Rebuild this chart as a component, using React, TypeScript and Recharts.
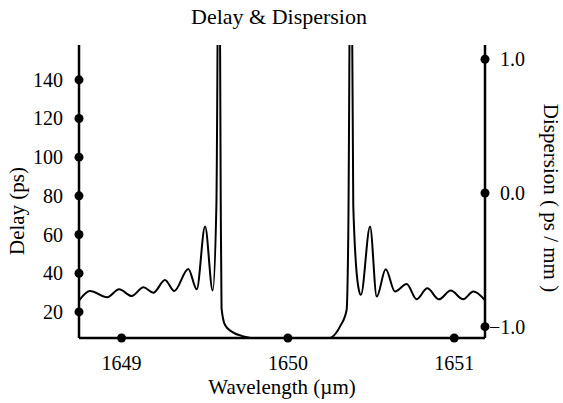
import { LineChart, Line, XAxis, YAxis } from 'recharts';

// wavelength (µm) and group delay (ps)
const wavelengths = [
  1648.745, 1648.81, 1648.914, 1648.985, 1649.061, 1649.131, 1649.191, 1649.261,
  1649.317, 1649.401, 1649.452, 1649.502, 1649.548, 1649.57, 1649.586, 1649.596,
  1649.601, 1649.622, 1649.662, 1649.722, 1649.782, 1649.88, 1650.0, 1650.15,
  1650.253, 1650.313, 1650.353, 1650.363, 1650.379, 1650.393, 1650.423, 1650.439,
  1650.494, 1650.534, 1650.588, 1650.644, 1650.714, 1650.774, 1650.838, 1650.908,
  1650.979, 1651.054, 1651.115, 1651.185,
];
const delays = [
  26, 30.8, 27.6, 31.7, 28.2, 32.7, 29.9, 36.5,
  30.8, 42.2, 31.7, 64.1, 31.0, 75, 260, 80,
  22, 13.2, 9.8, 7.6, 6.4, 4.5, 4, 4.5,
  6.4, 12.4, 21.0, 60, 260, 75, 33, 28.8,
  64.1, 27.9, 42.0, 30.5, 34.4, 26.5, 32.2, 26.5,
  31.0, 26.5, 30.5, 26,
];

const xTicks = [1649, 1650, 1651];
const delayTicks = [20, 40, 60, 80, 100, 120, 140];
const dispersionTicks = [-1, 0, 1];

const data = wavelengths.map((w, i) => ({ wavelength: w, delay: delays[i] }));

const FONT = '"Liberation Serif", "Times New Roman", serif';

const LeftTick = ({ x, y, payload }: any) => (
  <g>
    <circle cx={x} cy={y} r={4.5} fill="#000" />
    <text x={x - 16} y={y + 7} textAnchor="end" fontFamily={FONT} fontSize={20} fill="#000">
      {payload.value}
    </text>
  </g>
);

const RightTick = ({ x, y, payload }: any) => {
  const v = payload.value;
  const label = v < 0 ? '\u2212' + Math.abs(v).toFixed(1) : v.toFixed(1);
  return (
    <g>
      <circle cx={x} cy={y} r={4.5} fill="#000" />
      <text x={v < 0 ? x + 4 : x + 15} y={y + 7} textAnchor="start" fontFamily={FONT} fontSize={20} fill="#000">
        {label}
      </text>
    </g>
  );
};

const BottomTick = ({ x, y, payload }: any) => (
  <g>
    <circle cx={x} cy={y} r={4.5} fill="#000" />
    <text x={x} y={y + 32} textAnchor="middle" fontFamily={FONT} fontSize={20} fill="#000">
      {payload.value}
    </text>
  </g>
);

export default function App() {
  return (
    <div style={{ position: 'absolute', left: 0, top: 0, width: 563, height: 403, background: '#fff' }}>
      <LineChart width={563} height={403} data={data} margin={{ top: 45, right: 0, bottom: 0, left: 0 }}>
        <XAxis
          dataKey="wavelength"
          type="number"
          domain={[1648.744, 1651.185]}
          allowDataOverflow
          ticks={xTicks}
          tick={<BottomTick />}
          tickSize={0}
          tickMargin={0}
          height={65}
          axisLine={{ stroke: '#000', strokeWidth: 2.5 }}
        />
        <XAxis
          xAxisId="top"
          orientation="top"
          dataKey="wavelength"
          type="number"
          domain={[1648.744, 1651.185]}
          height={0}
          tick={false}
          tickLine={false}
          axisLine={{ stroke: '#000', strokeWidth: 2 }}
        />
        <YAxis
          yAxisId="delay"
          domain={[6.5, 158]}
          allowDataOverflow
          ticks={delayTicks}
          tick={<LeftTick />}
          tickSize={0}
          tickMargin={0}
          width={79}
          axisLine={{ stroke: '#000', strokeWidth: 2.5 }}
        />
        <YAxis
          yAxisId="dispersion"
          orientation="right"
          domain={[-1.085, 1.107]}
          allowDataOverflow
          ticks={dispersionTicks}
          tick={<RightTick />}
          tickSize={0}
          tickMargin={0}
          width={78}
          axisLine={{ stroke: '#000', strokeWidth: 2.5 }}
        />
        <Line
          yAxisId="delay"
          dataKey="delay"
          type="monotone"
          stroke="#000"
          strokeWidth={2}
          dot={false}
          isAnimationActive={false}
        />
        <text x={279} y={24} textAnchor="middle" fontFamily={FONT} fontSize={22} fill="#000">
          Delay &amp; Dispersion
        </text>
        <text x={282} y={394} textAnchor="middle" fontFamily={FONT} fontSize={21} fill="#000">
          {'Wavelength (\u00b5m)'}
        </text>
        <text
          x={0}
          y={0}
          transform="translate(24, 211) rotate(-90)"
          textAnchor="middle"
          fontFamily={FONT}
          fontSize={21}
          fill="#000"
        >
          Delay (ps)
        </text>
        <text
          x={0}
          y={0}
          transform="translate(544, 198) rotate(90)"
          textAnchor="middle"
          fontFamily={FONT}
          fontSize={21}
          fill="#000"
        >
          Dispersion ( ps / mm )
        </text>
      </LineChart>
    </div>
  );
}
